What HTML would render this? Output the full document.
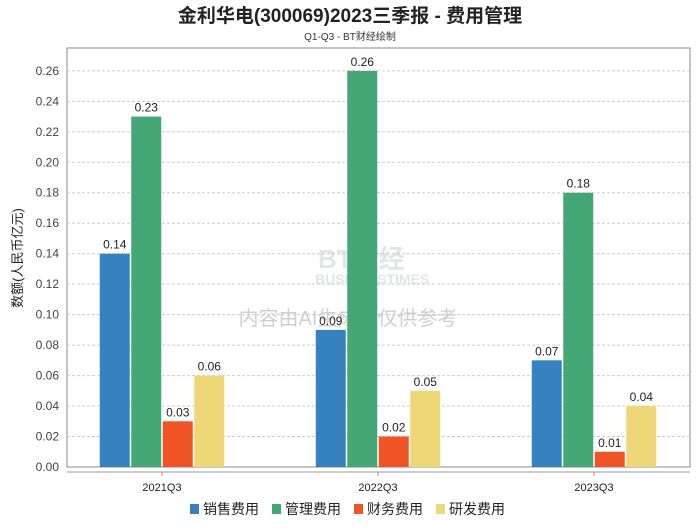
<!DOCTYPE html>
<html><head><meta charset="utf-8"><style>
body{margin:0;background:#fff;font-family:"Liberation Sans","Noto Sans CJK SC",sans-serif}
</style></head><body>
<svg id="c" width="700" height="524" xmlns="http://www.w3.org/2000/svg" font-family="Liberation Sans, Noto Sans CJK SC, sans-serif">
<text x="350" y="22" text-anchor="middle" font-size="19" font-weight="bold" fill="#222">金利华电(300069)2023三季报 - 费用管理</text>
<text x="350" y="40" text-anchor="middle" font-size="10" fill="#333">Q1-Q3 - BT财经绘制</text>
<g opacity="0.15">
<text x="318" y="268" font-size="26" font-weight="bold" fill="#456">BT财经</text>
<text x="315" y="284" font-size="14" font-weight="bold" fill="#456">BUSINESSTIMES</text>
</g>
<text x="348" y="325" text-anchor="middle" font-size="20" fill="#bbb" opacity="0.7">内容由AI生成，仅供参考</text>
<g id="plot"></g>
<text transform="translate(22,258) rotate(-90)" text-anchor="middle" font-size="13" fill="#222">数额(人民币亿元)</text>
</svg>
<script>
const categories=["2021Q3","2022Q3","2023Q3"];
const seriesNames=["销售费用","管理费用","财务费用","研发费用"];
const colors=["#3682be","#45a776","#f05326","#eed777"];
const sales=[0.14,0.09,0.07];
const admin=[0.23,0.26,0.18];
const finance=[0.03,0.02,0.01];
const rnd=[0.06,0.05,0.04];
const yTicks=[0,0.02,0.04,0.06,0.08,0.10,0.12,0.14,0.16,0.18,0.20,0.22,0.24,0.26];
const series=[sales,admin,finance,rnd];
const NS="http://www.w3.org/2000/svg";
const g=document.getElementById('plot');
const L=67,R=690,T=48,B=467,yMax=0.275;
const y=v=>B-(v/yMax)*(B-T);
const gw=216,x0c=162;
const xc=i=>x0c+gw*i;
function mk(t,a,p){const e=document.createElementNS(NS,t);for(const k in a)e.setAttribute(k,a[k]);(p||g).appendChild(e);return e;}
let r=mk('rect',{x:L,y:T,width:R-L,height:B-T,fill:'none',stroke:'#888'});


yTicks.forEach(t=>{
 if(t>0){let l=mk('line',{x1:L,x2:R,y1:y(t),y2:y(t),stroke:'#ccc','stroke-dasharray':'3,2'});
 
 }
 let tx=mk('text',{x:L-8,y:y(t)+4,'text-anchor':'end','font-size':'12',fill:'#444'});
 tx.textContent=t.toFixed(2);
 
 
});
let ax=mk('line',{x1:L,x2:R,y1:B+5,y2:B+5,stroke:'#999'});


const bw=30,gap=1.5;
categories.forEach((c,i)=>{
 let tl=mk('line',{x1:xc(i),x2:xc(i),y1:B+5,y2:B+9,stroke:'#999'});
 
 
 let lt=mk('text',{x:xc(i),y:B+24,'text-anchor':'middle','font-size':'11',fill:'#222'});
 lt.textContent=c;
 
 
 series.forEach((s,j)=>{
  const x0=xc(i)-2*bw-1.5*gap+j*(bw+gap);
  let b=mk('rect',{x:x0,y:y(s[i]),width:bw,height:B-y(s[i]),fill:colors[j]});
  
  
  let v=mk('text',{x:x0+bw/2,y:y(s[i])-5,'text-anchor':'middle','font-size':'12',fill:'#222'});
  v.textContent=s[i].toFixed(2);
  
  
 });
});
let lx=190;
seriesNames.forEach((n,j)=>{
 let sw=mk('rect',{x:lx,y:504,width:9,height:10,fill:colors[j]});
 
 
 let t=mk('text',{x:lx+13,y:514,'font-size':'14',fill:'#222'});
 t.textContent=n;
 
 
 lx+=82;
});
</script>
</body></html>
